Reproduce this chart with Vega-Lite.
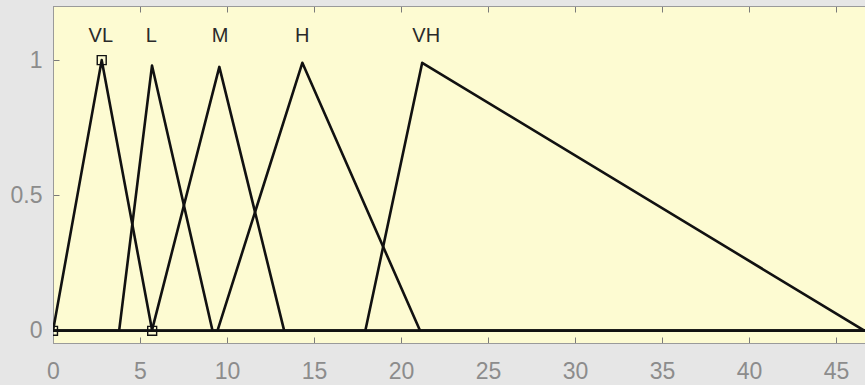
{
  "$schema": "https://vega.github.io/schema/vega-lite/v6.json",
  "autosize": {"type": "none"},
  "padding": {"left": 53, "top": 6, "right": 0, "bottom": 42},
  "width": 812,
  "height": 337,
  "background": "#e6e6e6",
  "config": {
    "view": {"fill": "#fdfbd2", "stroke": "#a0a0a0", "strokeWidth": 1},
    "axis": {
      "domainColor": "#9a9a9a",
      "tickColor": "#7a7a7a",
      "tickSize": -6,
      "tickWidth": 1,
      "grid": false,
      "labelFont": "Liberation Sans",
      "labelFontSize": 23,
      "labelColor": "#8c8c8c",
      "title": null
    }
  },
  "datasets": {
    "mf": [
      {"name": "VL", "order": 0, "x": 0, "y": 0},
      {"name": "VL", "order": 1, "x": 2.8, "y": 1.0},
      {"name": "VL", "order": 2, "x": 5.7, "y": 0},
      {"name": "VL", "order": 3, "x": 46.67, "y": 0},
      {"name": "L", "order": 0, "x": 0, "y": 0},
      {"name": "L", "order": 1, "x": 3.8, "y": 0},
      {"name": "L", "order": 2, "x": 5.69, "y": 0.98},
      {"name": "L", "order": 3, "x": 9.17, "y": 0},
      {"name": "L", "order": 4, "x": 46.67, "y": 0},
      {"name": "M", "order": 0, "x": 0, "y": 0},
      {"name": "M", "order": 1, "x": 5.68, "y": 0},
      {"name": "M", "order": 2, "x": 9.56, "y": 0.975},
      {"name": "M", "order": 3, "x": 13.29, "y": 0},
      {"name": "M", "order": 4, "x": 46.67, "y": 0},
      {"name": "H", "order": 0, "x": 0, "y": 0},
      {"name": "H", "order": 1, "x": 9.45, "y": 0},
      {"name": "H", "order": 2, "x": 14.33, "y": 0.99},
      {"name": "H", "order": 3, "x": 21.1, "y": 0},
      {"name": "H", "order": 4, "x": 46.67, "y": 0},
      {"name": "VH", "order": 0, "x": 0, "y": 0},
      {"name": "VH", "order": 1, "x": 17.95, "y": 0},
      {"name": "VH", "order": 2, "x": 21.22, "y": 0.99},
      {"name": "VH", "order": 3, "x": 46.65, "y": 0}
    ],
    "labels": [
      {"name": "VL", "x": 2.75, "y": 1.09},
      {"name": "L", "x": 5.65, "y": 1.09},
      {"name": "M", "x": 9.6, "y": 1.09},
      {"name": "H", "x": 14.33, "y": 1.09},
      {"name": "VH", "x": 21.45, "y": 1.09}
    ],
    "markers": [
      {"x": 2.8, "y": 1.0},
      {"x": 0, "y": 0},
      {"x": 5.7, "y": 0}
    ]
  },
  "resolve": {"axis": {"x": "independent"}},
  "layer": [
    {
      "data": {"name": "mf"},
      "mark": {"type": "line", "color": "#111111", "strokeWidth": 2.6, "clip": true, "strokeJoin": "round"},
      "encoding": {
        "x": {"field": "x", "type": "quantitative", "scale": {"domain": [0, 46.67], "nice": false, "zero": false},
              "axis": {"values": [0, 5, 10, 15, 20, 25, 30, 35, 40, 45], "format": "~g", "labelPadding": 23, "labelFlush": false}},
        "y": {"field": "y", "type": "quantitative", "scale": {"domain": [-0.045, 1.2], "nice": false, "zero": false},
              "axis": {"values": [0, 0.5, 1], "format": "~g", "labelPadding": 17, "labelFlush": false}},
        "detail": {"field": "name"},
        "order": {"field": "order"}
      }
    },
    {
      "data": {"name": "markers"},
      "mark": {"type": "point", "shape": "square", "size": 80, "filled": false, "color": "#111111", "strokeWidth": 1.4, "clip": true, "opacity": 1},
      "encoding": {
        "x": {"field": "x", "type": "quantitative", "axis": {"orient": "top", "values": [0, 5, 10, 15, 20, 25, 30, 35, 40, 45], "labels": false, "domain": true}},
        "y": {"field": "y", "type": "quantitative"}
      }
    },
    {
      "data": {"name": "labels"},
      "mark": {"type": "text", "font": "Liberation Sans", "fontSize": 20, "color": "#2a2a2a", "align": "center", "baseline": "middle"},
      "encoding": {
        "x": {"field": "x", "type": "quantitative", "axis": null},
        "y": {"field": "y", "type": "quantitative"},
        "text": {"field": "name"}
      }
    }
  ]
}
